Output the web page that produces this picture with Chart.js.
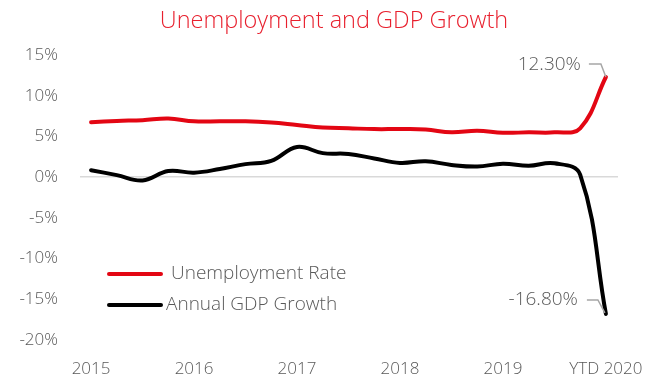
<!DOCTYPE html>
<html>
<head>
<meta charset="utf-8">
<script src="https://cdn.jsdelivr.net/npm/chart.js@4.4.0/dist/chart.umd.min.js"></script>
<style>
  html, body { margin: 0; padding: 0; background: #ffffff; }
  #wrap { width: 655px; height: 382px; position: relative; }
</style>
</head>
<body>
<div id="wrap"><canvas id="c" width="655" height="382"></canvas></div>
<script>
// Quarterly observations, 2015 Q1 .. YTD 2020
const periods = ['2015','','','','2016','','','','2017','','','','2018','','','','2019','','','','YTD 2020'];
const unemploymentRate = [6.75, 6.9, 7.0, 7.2, 6.85, 6.85, 6.85, 6.7, 6.4, 6.1, 6.0, 5.9, 5.9, 5.85, 5.5, 5.7, 5.45, 5.5, 5.5, 6.0, 12.3];
const gdpGrowth = [0.85, 0.25, -0.4, 0.75, 0.55, 1.0, 1.6, 2.0, 3.7, 2.95, 2.85, 2.3, 1.75, 1.95, 1.5, 1.3, 1.65, 1.4, 1.7, 0.3, -16.8];
const yTicks = [15, 10, 5, 0, -5, -10, -15, -20];
const seriesNames = ['Unemployment Rate', 'Annual GDP Growth'];
const titleText = 'Unemployment and GDP Growth';

const RED = '#e30613';
const TEXT = '#595959';
const FONT = "'Open Sans', 'Noto Sans', sans-serif";

const toPoints = arr => arr.map((v, i) => ({ x: i, y: v }));

const titleDraw = {
  id: 'titleDraw',
  afterDraw(chart) {
    const ctx = chart.ctx;
    ctx.save();
    ctx.font = '300 23.5px ' + FONT;
    ctx.fillStyle = '#e8202e';
    ctx.textAlign = 'center';
    ctx.textBaseline = 'middle';
    ctx.fillText(titleText, 334, 21);
    ctx.restore();
  }
};

const endLabels = {
  id: 'endLabels',
  afterDatasetsDraw(chart) {
    const ctx = chart.ctx;
    const xs = chart.scales.x, ys = chart.scales.y;
    const last = periods.length - 1;
    ctx.save();
    ctx.font = '300 19px ' + FONT;
    ctx.fillStyle = TEXT;
    ctx.textBaseline = 'middle';
    ctx.textAlign = 'right';
    ctx.strokeStyle = '#a6a6a6';
    ctx.lineWidth = 1.5;
    // Unemployment end label
    let px = xs.getPixelForValue(last), py = ys.getPixelForValue(unemploymentRate[last]);
    ctx.beginPath();
    ctx.moveTo(px - 17, py - 13); ctx.lineTo(px - 5, py - 13); ctx.lineTo(px, py);
    ctx.stroke();
    ctx.fillText(unemploymentRate[last].toFixed(2) + '%', px - 25, py - 12);
    // GDP end label
    px = xs.getPixelForValue(last); py = ys.getPixelForValue(gdpGrowth[last]);
    ctx.beginPath();
    ctx.moveTo(px - 19, py - 14); ctx.lineTo(px - 8, py - 14); ctx.lineTo(px - 1, py - 1);
    ctx.stroke();
    ctx.fillText(gdpGrowth[last].toFixed(2) + '%', px - 28, py - 14);
    ctx.restore();
  }
};

const insideLegend = {
  id: 'insideLegend',
  afterDraw(chart) {
    const ctx = chart.ctx;
    ctx.save();
    ctx.lineCap = 'round';
    ctx.lineWidth = 4;
    const rows = [
      { color: RED, y: 274, x0: 109, x1: 161, tx: 171 },
      { color: '#000000', y: 305, x0: 109, x1: 161, tx: 166 }
    ];
    ctx.font = '300 19px ' + FONT;
    ctx.fillStyle = TEXT;
    ctx.textBaseline = 'middle';
    ctx.textAlign = 'left';
    rows.forEach((r, i) => {
      ctx.strokeStyle = r.color;
      ctx.beginPath(); ctx.moveTo(r.x0, r.y); ctx.lineTo(r.x1, r.y); ctx.stroke();
      ctx.fillText(seriesNames[i], r.tx, r.y);
    });
    ctx.restore();
  }
};

new Chart(document.getElementById('c'), {
  type: 'line',
  data: {
    datasets: [
      { label: seriesNames[0], data: toPoints(unemploymentRate), borderColor: RED, borderWidth: 4, pointRadius: 0, tension: 0.4, fill: false, borderCapStyle: 'round' },
      { label: seriesNames[1], data: toPoints(gdpGrowth), borderColor: '#000000', borderWidth: 4, pointRadius: 0, tension: 0.4, fill: false, borderCapStyle: 'round' }
    ]
  },
  options: {
    responsive: false,
    animation: false,
    layout: { padding: { top: 55, right: 37, bottom: 3, left: 0 } },
    plugins: {
      legend: { display: false },
      tooltip: { enabled: false },
      title: { display: false }
    },
    scales: {
      x: {
        type: 'linear',
        min: -0.43,
        max: 20.47,
        afterBuildTicks: s => { s.ticks = periods.map((p, i) => ({ value: i, label: p })).filter(t => t.label !== ''); },
        afterFit: s => { s.height = 39; s.paddingLeft = 0; s.paddingRight = 0; },
        ticks: {
          autoSkip: false,
          maxRotation: 0,
          padding: 19,
          color: TEXT,
          font: { family: FONT, size: 17, weight: 300 },
          callback: (v) => periods[v]
        },
        grid: { display: false, drawTicks: false },
        border: { display: false }
      },
      y: {
        min: -20,
        max: 15,
        afterBuildTicks: s => { s.ticks = yTicks.map(v => ({ value: v })); },
        afterFit: s => { s.width = 80; s.paddingTop = 0; s.paddingBottom = 0; },
        ticks: {
          padding: 22,
          color: TEXT,
          font: { family: FONT, size: 17, weight: 300 },
          callback: v => v + '%'
        },
        grid: {
          drawTicks: false,
          lineWidth: 1.5,
          color: ctx => (ctx.tick && ctx.tick.value === 0) ? '#d9d9d9' : 'rgba(0,0,0,0)'
        },
        border: { display: false }
      }
    }
  },
  plugins: [endLabels, insideLegend, titleDraw]
});
</script>
</body>
</html>
